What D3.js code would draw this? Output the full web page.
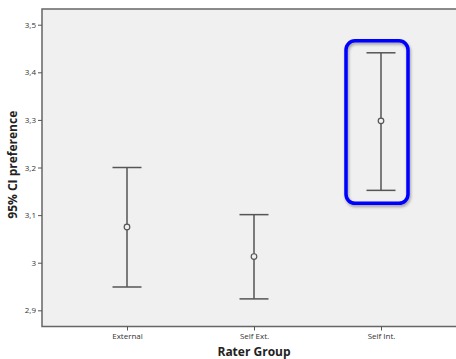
<!DOCTYPE html>
<html><head><meta charset="utf-8">
<script src="https://cdn.jsdelivr.net/npm/d3@7"></script>
<style>html,body{margin:0;padding:0;background:#fff;}svg{display:block;}</style>
</head><body>
<svg id="c" width="456" height="359"></svg>
<script>
const categories = ["External", "Self Ext.", "Self Int."];
const means = [3.075, 3.013, 3.298];
const lower = [2.949, 2.924, 3.152];
const upper = [3.200, 3.101, 3.441];
const yTicks = [2.9, 3.0, 3.1, 3.2, 3.3, 3.4, 3.5];
const highlighted = ["Self Int."];

const svg = d3.select("#c");
const L = 42, T = 9, B = 326.5;
const y = d3.scaleLinear().domain([2.866, 3.533]).range([B, T]);
const x = d3.scalePoint().domain(categories).range([127, 381]).padding(0);
const fmt = v => (v === 3 ? "3" : d3.format(".1f")(v).replace(".", ","));
const font = "'Open Sans', Lato, sans-serif";

const defs = svg.append("defs");
const f = defs.append("filter").attr("id", "sh").attr("x", "-20%").attr("y", "-20%").attr("width", "140%").attr("height", "140%");
f.append("feDropShadow").attr("dx", 1).attr("dy", 2).attr("stdDeviation", 1.5).attr("flood-color", "#000").attr("flood-opacity", 0.35);

svg.append("rect").attr("x", L).attr("y", T).attr("width", 470 - L).attr("height", B - T)
  .attr("fill", "#f0f0f0").attr("stroke", "#666").attr("stroke-width", 1.5);

const ya = svg.append("g").attr("transform", `translate(${L},0)`)
  .call(d3.axisLeft(y).tickValues(yTicks).tickFormat(fmt).tickSize(4).tickPadding(2));
ya.select(".domain").remove();
ya.selectAll("line").attr("stroke", "#555");
ya.selectAll("text").attr("font-family", font).attr("font-size", 8).attr("fill", "#333");

const xa = svg.append("g").attr("transform", `translate(0,${B})`)
  .call(d3.axisBottom(x).tickSize(4).tickPadding(3));
xa.select(".domain").remove();
xa.selectAll("line").attr("stroke", "#555");
xa.selectAll("text").attr("font-family", font).attr("font-size", 8).attr("fill", "#333");

const g = svg.append("g").attr("stroke", "#555").attr("stroke-width", 1.5).attr("fill", "none");
categories.forEach((c, i) => {
  const cx = x(c);
  g.append("line").attr("x1", cx).attr("x2", cx).attr("y1", y(upper[i])).attr("y2", y(lower[i]));
  g.append("line").attr("x1", cx - 14.5).attr("x2", cx + 14.5).attr("y1", y(upper[i])).attr("y2", y(upper[i]));
  g.append("line").attr("x1", cx - 14.5).attr("x2", cx + 14.5).attr("y1", y(lower[i])).attr("y2", y(lower[i]));
  g.append("circle").attr("cx", cx).attr("cy", y(means[i])).attr("r", 2.8).attr("fill", "#f0f0f0").attr("stroke-width", 1.2);
});

highlighted.forEach(c => {
  const i = categories.indexOf(c);
  const cx = x(c);
  const top = y(upper[i]) - 12, bot = y(lower[i]) + 13;
  svg.append("rect").attr("x", cx - 35).attr("y", top).attr("width", 62).attr("height", bot - top)
    .attr("rx", 9).attr("ry", 9).attr("fill", "none").attr("stroke", "#0000ff").attr("stroke-width", 3.5)
    .attr("filter", "url(#sh)");
});

svg.append("text").attr("transform", `translate(17,${(T + B) / 2 - 3}) rotate(-90)`)
  .attr("text-anchor", "middle").attr("font-family", font)
  .attr("font-weight", "bold").attr("font-size", 12).attr("fill", "#222").text("95% CI preference");
svg.append("text").attr("x", x("Self Ext.")).attr("y", 356).attr("text-anchor", "middle")
  .attr("font-family", font).attr("font-weight", "bold").attr("font-size", 12)
  .attr("fill", "#222").text("Rater Group");
</script>
</body></html>
